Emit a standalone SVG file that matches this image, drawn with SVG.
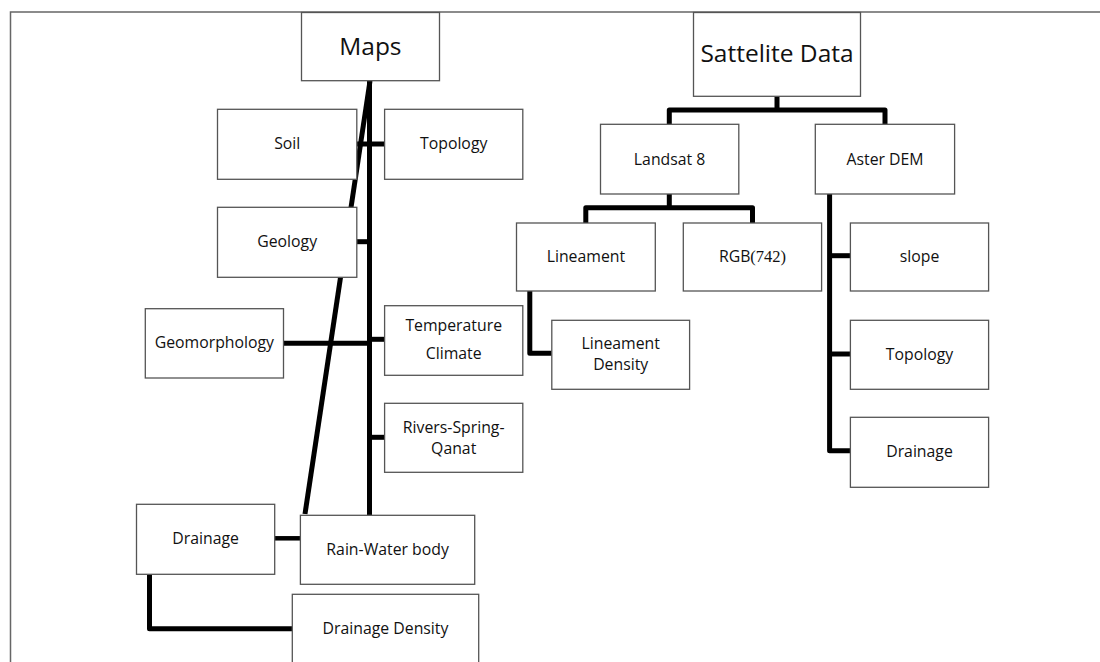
<svg xmlns="http://www.w3.org/2000/svg" width="1100" height="662" viewBox="0 0 1100 662">
<style>
.box{fill:#fff;stroke:#555;stroke-width:1.3}
.lbl{font-family:"Open Sans","Liberation Sans",sans-serif;font-size:15.8px;fill:#111;text-anchor:middle}
.big{font-size:24.5px}
.con{fill:none;stroke:#000;stroke-width:5;stroke-linejoin:round;stroke-linecap:butt}
.frame{fill:none;stroke:#666;stroke-width:1.5}
</style>
<rect width="1100" height="662" fill="#fff"/>
<path class="frame" d="M10.5,662 V12 H1100"/>
<g id="connectors">
  <path class="con" d="M369.5,81 V515"/>
  <path class="con" d="M370,81 L305,514"/>
  <path class="con" d="M357,144 H385"/>
  <path class="con" d="M357,241.7 H369.5"/>
  <path class="con" d="M283.5,343.3 H369.5"/>
  <path class="con" d="M369.5,339.3 H385"/>
  <path class="con" d="M369.5,437.3 H385"/>
  <path class="con" d="M274.7,538.3 H300.4" style="stroke-width:4.5"/>
  <path class="con" d="M149.5,574.3 V628.7 H292.3"/>
  <path class="con" d="M777,96.3 V110"/>
  <path class="con" d="M669.3,124.3 V110 H885 V124.3"/>
  <path class="con" d="M669.3,194 V207.7"/>
  <path class="con" d="M585.8,223 V207.7 H752.5 V223"/>
  <path class="con" d="M529.8,291 V353.3 H551.8"/>
  <path class="con" d="M829.6,194 V450.7 H850.4"/>
  <path class="con" d="M829.6,255.7 H850.4"/>
  <path class="con" d="M829.6,354 H850.4"/>
</g>
<g id="maps"><rect class="box" x="301.5" y="12.5" width="138" height="68.2"/><text class="lbl big" x="370.4" y="55">Maps</text></g>
<g id="soil"><rect class="box" x="217.5" y="109.3" width="139.3" height="70"/><text class="lbl" x="287.2" y="149">Soil</text></g>
<g id="topology-l"><rect class="box" x="384.6" y="109.3" width="138.2" height="70"/><text class="lbl" x="453.7" y="149">Topology</text></g>
<g id="geology"><rect class="box" x="217.5" y="207.3" width="139.3" height="70"/><text class="lbl" x="287.2" y="246.7">Geology</text></g>
<g id="geomorphology"><rect class="box" x="145.3" y="308.7" width="138.2" height="69.3"/><text class="lbl" x="214.4" y="348">Geomorphology</text></g>
<g id="temperature"><rect class="box" x="384.6" y="305.7" width="138.2" height="69.6"/><text class="lbl" x="453.7" y="331">Temperature</text><text class="lbl" x="453.7" y="359.3">Climate</text></g>
<g id="rivers"><rect class="box" x="384.6" y="403.3" width="138.2" height="69"/><text class="lbl" x="453.7" y="433.3">Rivers-Spring-</text><text class="lbl" x="453.7" y="454">Qanat</text></g>
<g id="drainage-l"><rect class="box" x="136.5" y="504.3" width="138.2" height="70"/><text class="lbl" x="205.6" y="544">Drainage</text></g>
<g id="rainwater"><rect class="box" x="300.4" y="515.3" width="174.3" height="69"/><text class="lbl" x="387.6" y="555">Rain-Water body</text></g>
<g id="drainage-density"><rect class="box" x="292.3" y="594.3" width="186.4" height="69"/><text class="lbl" x="385.5" y="634.3">Drainage Density</text></g>
<g id="satellite"><rect class="box" x="693.5" y="12.5" width="167" height="83.8"/><text class="lbl big" x="777" y="62.3">Sattelite Data</text></g>
<g id="landsat"><rect class="box" x="600.5" y="124.3" width="138.3" height="69.7"/><text class="lbl" x="669.6" y="165">Landsat 8</text></g>
<g id="aster"><rect class="box" x="815.3" y="124.3" width="139.3" height="69.7"/><text class="lbl" x="885" y="165">Aster DEM</text></g>
<g id="lineament"><rect class="box" x="516.5" y="223" width="138.8" height="68"/><text class="lbl" x="585.9" y="261.7">Lineament</text></g>
<g id="rgb"><rect class="box" x="683.3" y="223" width="138.3" height="68"/><text class="lbl" x="752.5" y="261.7">RGB<tspan style="font-family:'Liberation Serif',serif;font-size:16.5px">(742)</tspan></text></g>
<g id="slope"><rect class="box" x="850.4" y="223" width="138.2" height="68"/><text class="lbl" x="919.5" y="261.7">slope</text></g>
<g id="lineament-density"><rect class="box" x="551.8" y="320.3" width="137.8" height="69"/><text class="lbl" x="620.7" y="349.3">Lineament</text><text class="lbl" x="620.7" y="370">Density</text></g>
<g id="topology-r"><rect class="box" x="850.4" y="320.3" width="138.2" height="69"/><text class="lbl" x="919.5" y="360">Topology</text></g>
<g id="drainage-r"><rect class="box" x="850.4" y="417.3" width="138.2" height="70"/><text class="lbl" x="919.5" y="457.3">Drainage</text></g>
</svg>
